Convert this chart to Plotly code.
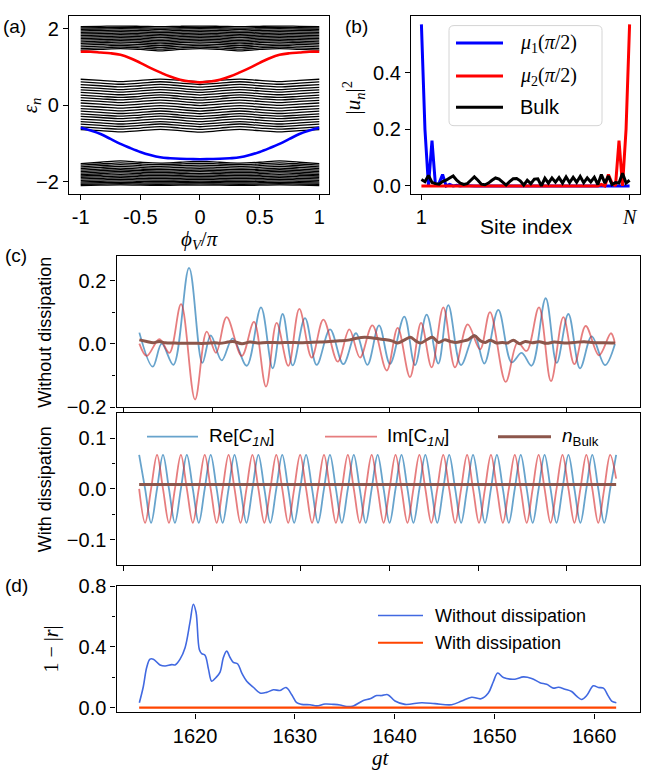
import numpy as np
import plotly.graph_objects as go

W, H = 668, 783
SANS = "Liberation Sans, Arial, sans-serif"
SERIF = "Liberation Serif, DejaVu Serif, serif"


def px(x):
    return x / W


def py(y):
    return 1 - y / H


# ---------------- (a) spectrum versus phi_V ----------------
phi_grid = np.linspace(-1.0, 1.0, 13)
phi_edge = np.linspace(-1.0, 1.0, 25)

upper_band_levels = [1.46, 1.50, 1.545, 1.59, 1.635, 1.675, 1.715, 1.755,
                     1.795, 1.835, 1.875, 1.915, 1.955, 1.995, 2.03, 2.065]
upper_band_weights = [1.0, 0.95, 0.9, 0.85, 0.8, 0.75, 0.7, 0.65,
                      0.6, 0.55, 0.5, 0.45, 0.4, 0.35, 0.3, 0.3]
upper_band_wiggle = [-0.02, 0.0, 0.02, 0.0, -0.035, 0.0, 0.02, 0.0,
                     -0.035, 0.0, 0.02, 0.0, -0.02]

middle_band_levels = [-0.665, -0.595, -0.525, -0.46, -0.39, -0.32, -0.255,
                      -0.185, -0.115, -0.045, 0.03, 0.10, 0.17, 0.235,
                      0.305, 0.375, 0.44, 0.51, 0.58, 0.65]
middle_band_wiggle = [0.03, 0.0, -0.03, 0.0, 0.035, 0.0, -0.037, 0.0,
                      0.035, 0.0, -0.03, 0.0, 0.03]

lower_band_levels = [-2.09, -2.06, -2.025, -1.99, -1.95, -1.91, -1.87, -1.83,
                     -1.79, -1.75, -1.71, -1.67, -1.625, -1.58, -1.535, -1.49]
lower_band_weights = [0.2, 0.25, 0.3, 0.35, 0.4, 0.45, 0.5, 0.55,
                      0.6, 0.65, 0.7, 0.75, 0.8, 0.85, 0.9, 1.0]
lower_band_wiggle = [-0.035, 0.0, 0.035, 0.0, -0.02, 0.0, 0.02, 0.0,
                     -0.02, 0.0, 0.035, 0.0, -0.035]

edge_upper = [1.40, 1.40, 1.38, 1.36, 1.32, 1.23, 1.11, 0.98, 0.86, 0.75,
              0.67, 0.62, 0.60, 0.62, 0.67, 0.75, 0.86, 0.98, 1.11, 1.23,
              1.32, 1.36, 1.38, 1.40, 1.40]
edge_lower = [-0.59, -0.66, -0.75, -0.88, -1.01, -1.12, -1.22, -1.30, -1.36,
              -1.385, -1.40, -1.405, -1.41, -1.405, -1.40, -1.385, -1.36,
              -1.30, -1.22, -1.12, -1.01, -0.88, -0.75, -0.66, -0.59]

# ---------------- (b) mode profiles ----------------
sites = np.arange(1, 61)
mu1_profile = [0.57, 0.20, 0.0, 0.16, 0.0, 0.01, 0.04, 0.0, 0.005, 0.0,
               0.002, 0.0, 0.001, 0.0, 0.0, 0.0, 0.0, 0.0, 0.0, 0.0,
               0.0, 0.0, 0.0, 0.0, 0.0, 0.0, 0.0, 0.0, 0.0, 0.0,
               0.0, 0.0, 0.0, 0.0, 0.0, 0.0, 0.0, 0.0, 0.0, 0.0,
               0.0, 0.0, 0.0, 0.0, 0.0, 0.0, 0.0, 0.0, 0.0, 0.0,
               0.0, 0.0, 0.0, 0.0, 0.0, 0.0, 0.0, 0.0, 0.0, 0.0]
mu2_profile = [0.0, 0.0, 0.0, 0.0, 0.0, 0.0, 0.0, 0.0, 0.0, 0.0,
               0.0, 0.0, 0.0, 0.0, 0.0, 0.0, 0.0, 0.0, 0.0, 0.0,
               0.0, 0.0, 0.0, 0.0, 0.0, 0.0, 0.0, 0.0, 0.0, 0.0,
               0.0, 0.0, 0.0, 0.0, 0.0, 0.0, 0.0, 0.0, 0.0, 0.0,
               0.0, 0.0, 0.0, 0.0, 0.0, 0.0, 0.0, 0.001, 0.0, 0.002,
               0.0, 0.005, 0.0, 0.04, 0.01, 0.0, 0.16, 0.0, 0.20, 0.57]
bulk_profile = [0.023, 0.015, 0.037, 0.012, 0.008, 0.006, 0.015, 0.020,
                0.028, 0.035, 0.020, 0.010, 0.005, 0.008, 0.020, 0.032,
                0.020, 0.006, 0.004, 0.010, 0.020, 0.028, 0.024, 0.012,
                0.003, 0.015, 0.025, 0.026, 0.018, 0.003, 0.020, 0.008,
                0.024, 0.025, 0.000, 0.027, 0.010, 0.028, 0.013, 0.029,
                0.010, 0.032, 0.012, 0.030, 0.013, 0.033, 0.011, 0.028,
                0.014, 0.030, 0.005, 0.040, 0.010, 0.035, 0.005, 0.012,
                0.010, 0.045, 0.010, 0.020]

# ---------------- (c) correlations, without dissipation ----------------
re_t = [1614.42, 1615.76, 1616.66, 1617.83, 1619.40, 1620.73, 1621.57,
        1622.67, 1623.77, 1625.18, 1626.61, 1627.78, 1628.78, 1629.79,
        1631.02, 1632.19, 1633.53, 1634.86, 1636.13, 1637.27, 1638.44,
        1639.54, 1640.97, 1642.04, 1643.21, 1644.38, 1645.38, 1646.65,
        1647.99, 1648.99, 1650.39, 1651.73, 1652.73, 1653.73, 1655.14,
        1656.24, 1657.41, 1658.58, 1659.75, 1661.08, 1662.08]
re_v = [0.036, -0.072, 0.001, -0.066, 0.241, -0.060, 0.027,
        -0.052, 0.018, -0.069, 0.116, -0.077, 0.095, -0.068,
        0.082, -0.066, 0.046, -0.064, 0.034, -0.066, 0.059,
        -0.063, 0.087, -0.067, 0.093, -0.062, 0.123, -0.067,
        0.029, -0.062, 0.108, -0.058, -0.028, -0.069, 0.145,
        -0.060, 0.095, -0.077, 0.024, -0.067, 0.000]

im_t = [1614.42, 1615.16, 1616.43, 1617.43, 1618.60, 1620.00, 1621.17,
        1622.10, 1623.17, 1624.68, 1625.91, 1627.11, 1628.18, 1629.35,
        1630.45, 1631.69, 1632.86, 1634.30, 1635.46, 1636.53, 1637.77,
        1639.21, 1640.31, 1641.54, 1642.65, 1643.71, 1644.88, 1646.05,
        1647.32, 1648.56, 1649.56, 1651.13, 1652.33, 1653.23, 1654.47,
        1655.67, 1656.91, 1658.01, 1659.15, 1660.48, 1661.68, 1662.08]
im_v = [0.001, -0.038, 0.015, -0.028, 0.126, -0.176, 0.039,
        -0.028, 0.085, -0.038, 0.070, -0.135, 0.067, -0.069,
        0.111, -0.043, 0.077, -0.056, 0.046, -0.043, 0.059,
        -0.084, 0.051, -0.105, 0.067, -0.074, 0.116, -0.074,
        0.062, -0.017, 0.101, -0.120, 0.005, -0.022, 0.116,
        -0.118, 0.085, -0.064, 0.057, -0.036, 0.034, 0.001]

nb_t = [1614.42, 1615.16, 1615.80, 1616.40, 1617.00, 1618.00, 1619.00,
        1620.00, 1621.00, 1622.00, 1622.50, 1623.30, 1623.80, 1624.70,
        1625.50, 1626.30, 1627.20, 1628.50, 1629.50, 1630.50, 1631.50,
        1632.50, 1633.50, 1634.50, 1635.50, 1636.20, 1637.00, 1637.80,
        1638.50, 1639.00, 1639.80, 1640.30, 1641.00, 1641.60, 1642.10,
        1642.60, 1643.30, 1643.80, 1644.40, 1645.00, 1645.60, 1646.10,
        1646.80, 1647.40, 1648.00, 1648.60, 1649.10, 1649.60, 1650.20,
        1650.80, 1651.30, 1651.90, 1652.50, 1653.10, 1653.80, 1654.50,
        1655.20, 1656.00, 1657.00, 1658.00, 1659.00, 1660.00, 1661.00,
        1662.08]
nb_v = [0.013, 0.008, 0.004, 0.008, 0.004, 0.003, 0.002,
        0.002, 0.002, 0.004, 0.002, 0.006, 0.008, 0.001,
        0.006, 0.003, 0.005, 0.004, 0.005, 0.004, 0.005,
        0.006, 0.008, 0.010, 0.013, 0.018, 0.021, 0.019,
        0.016, 0.014, 0.009, 0.003, 0.013, 0.021, 0.010,
        0.003, 0.015, 0.021, 0.005, 0.013, 0.008, 0.005,
        0.009, 0.014, 0.026, 0.010, 0.005, 0.012, 0.003,
        0.005, 0.003, 0.012, 0.001, 0.008, 0.004, 0.007,
        0.002, 0.006, 0.003, 0.005, 0.007, 0.004, 0.004,
        0.003]

# ---------------- (c) correlations, with dissipation ----------------
diss_t = np.linspace(1614.4, 1662.2, 81)
re_diss = [0.067, 0.0, -0.067, 0.0, 0.067, 0.0, -0.067, 0.0,
           0.067, 0.0, -0.067, 0.0, 0.067, 0.0, -0.067, 0.0,
           0.067, 0.0, -0.067, 0.0, 0.067, 0.0, -0.067, 0.0,
           0.067, 0.0, -0.067, 0.0, 0.067, 0.0, -0.067, 0.0,
           0.067, 0.0, -0.067, 0.0, 0.067, 0.0, -0.067, 0.0,
           0.067, 0.0, -0.067, 0.0, 0.067, 0.0, -0.067, 0.0,
           0.067, 0.0, -0.067, 0.0, 0.067, 0.0, -0.067, 0.0,
           0.067, 0.0, -0.067, 0.0, 0.067, 0.0, -0.067, 0.0,
           0.067, 0.0, -0.067, 0.0, 0.067, 0.0, -0.067, 0.0,
           0.067, 0.0, -0.067, 0.0, 0.067, 0.0, -0.067, 0.0,
           0.067]
im_diss = [0.0, -0.067, 0.0, 0.067, 0.0, -0.067, 0.0, 0.067,
           0.0, -0.067, 0.0, 0.067, 0.0, -0.067, 0.0, 0.067,
           0.0, -0.067, 0.0, 0.067, 0.0, -0.067, 0.0, 0.067,
           0.0, -0.067, 0.0, 0.067, 0.0, -0.067, 0.0, 0.067,
           0.0, -0.067, 0.0, 0.067, 0.0, -0.067, 0.0, 0.067,
           0.0, -0.067, 0.0, 0.067, 0.0, -0.067, 0.0, 0.067,
           0.0, -0.067, 0.0, 0.067, 0.0, -0.067, 0.0, 0.067,
           0.0, -0.067, 0.0, 0.067, 0.0, -0.067, 0.0, 0.067,
           0.0, -0.067, 0.0, 0.067, 0.0, -0.067, 0.0, 0.067,
           0.0, -0.067, 0.0, 0.067, 0.0, -0.067, 0.0, 0.067,
           0.02]
nb_diss_t = [1614.4, 1662.2]
nb_diss_v = [0.0085, 0.0085]

# ---------------- (d) 1 - |r| ----------------
r_t = [1614.42, 1614.82, 1615.16, 1615.49, 1615.82, 1616.49, 1616.99,
       1617.66, 1618.00, 1618.50, 1619.00, 1619.50, 1619.83, 1620.10,
       1620.43, 1620.67, 1621.00, 1621.34, 1621.67, 1622.10, 1622.51,
       1622.84, 1623.17, 1623.51, 1623.84, 1624.28, 1624.68, 1625.18,
       1625.84, 1626.51, 1627.18, 1627.85, 1628.52, 1629.12, 1629.69,
       1630.19, 1630.69, 1631.52, 1632.19, 1633.03, 1633.86, 1634.53,
       1635.20, 1635.87, 1636.87, 1637.54, 1638.20, 1638.70, 1639.31,
       1640.04, 1641.04, 1642.71, 1644.05, 1645.72, 1646.72, 1647.72,
       1648.66, 1649.39, 1649.89, 1650.33, 1650.90, 1652.06, 1652.90,
       1653.73, 1654.57, 1655.24, 1655.90, 1656.41, 1657.07, 1657.74,
       1658.24, 1658.74, 1659.25, 1659.91, 1660.41, 1660.92, 1661.42,
       1661.75, 1662.22]
r_nodiss = [0.032, 0.139, 0.266, 0.319, 0.319, 0.281, 0.274,
            0.283, 0.281, 0.319, 0.394, 0.564, 0.681, 0.628,
            0.383, 0.355, 0.345, 0.255, 0.174, 0.198, 0.234,
            0.330, 0.372, 0.330, 0.298, 0.287, 0.228, 0.174,
            0.134, 0.096, 0.100, 0.117, 0.113, 0.132, 0.085,
            0.032, 0.021, 0.019, 0.011, 0.023, 0.021, 0.017,
            0.007, 0.011, 0.047, 0.058, 0.079, 0.079, 0.085,
            0.043, 0.021, 0.032, 0.026, 0.019, 0.043, 0.068,
            0.058, 0.096, 0.170, 0.228, 0.198, 0.187, 0.202,
            0.192, 0.164, 0.153, 0.128, 0.134, 0.121, 0.106,
            0.075, 0.053, 0.079, 0.143, 0.132, 0.128, 0.075,
            0.043, 0.032]
r_diss_t = [1614.4, 1662.2]
r_diss = [0.0, 0.0]

# c-panel ticks (unlabelled) and d-panel ticks
c_tick_vals = [1612.82, 1621.71, 1630.60, 1639.49, 1648.38, 1657.27]
d_tick_vals = [1620, 1630, 1640, 1650, 1660]

RE_COLOR = "rgba(31,119,180,0.68)"
IM_COLOR = "rgba(214,39,40,0.6)"
NB_COLOR = "#8c564b"

fig = go.Figure()


def add(x, y, ax, color, width, shape="linear", name=None):
    fig.add_trace(go.Scatter(
        x=x, y=y, mode="lines", name=name, showlegend=False,
        line=dict(color=color, width=width, shape=shape),
        xaxis="x" + ax, yaxis="y" + ax, hoverinfo="skip"))


# (a)
for lv, wt in zip(upper_band_levels, upper_band_weights):
    add(phi_grid, lv + wt * np.array(upper_band_wiggle), "", "black", 1.3, "spline")
for lv in middle_band_levels:
    add(phi_grid, lv + np.array(middle_band_wiggle), "", "black", 1.3, "spline")
for lv, wt in zip(lower_band_levels, lower_band_weights):
    add(phi_grid, lv + wt * np.array(lower_band_wiggle), "", "black", 1.3, "spline")
add(phi_edge, edge_upper, "", "red", 2.6, "spline")
add(phi_edge, edge_lower, "", "blue", 2.6, "spline")

# (b)
add(sites, mu1_profile, "2", "blue", 3, name="mu1")
add(sites, mu2_profile, "2", "red", 3, name="mu2")
add(sites, bulk_profile, "2", "black", 3, name="Bulk")

# (c) upper
add(re_t, re_v, "3", RE_COLOR, 1.8, "spline", "Re")
add(im_t, im_v, "3", IM_COLOR, 1.8, "spline", "Im")
add(nb_t, nb_v, "3", NB_COLOR, 3, "spline", "nBulk")

# (c) lower
add(diss_t, re_diss, "4", RE_COLOR, 1.8, "spline", "Re")
add(diss_t, im_diss, "4", IM_COLOR, 1.8, "spline", "Im")
add(nb_diss_t, nb_diss_v, "4", NB_COLOR, 3, name="nBulk")

# (d)
add(r_t, r_nodiss, "5", "royalblue", 1.6, "spline", "Without dissipation")
add(r_diss_t, r_diss, "5", "orangered", 2.2, name="With dissipation")

base_axis = dict(showline=True, linecolor="black", linewidth=1.3, mirror=True,
                 ticks="outside", ticklen=5, tickwidth=1.3, tickcolor="black",
                 showgrid=False, zeroline=False,
                 tickfont=dict(family=SANS, size=20, color="black"))
minor_style = dict(ticks="outside", ticklen=3, tickwidth=1, tickcolor="black")

a_dom_x = [px(69), px(329.3)]
b_dom_x = [px(411), px(640)]
top_dom_y = [py(188.3), py(5)]
c_dom_x = [px(116.5), px(640)]

fig.update_layout(
    width=W, height=H, autosize=False,
    margin=dict(l=0, r=0, t=0, b=0),
    paper_bgcolor="white", plot_bgcolor="white",
    font=dict(family=SANS, color="black"),
    showlegend=False,
    xaxis=dict(base_axis, domain=a_dom_x, anchor="y", range=[-1.098, 1.084],
               tickvals=[-1, -0.5, 0, 0.5, 1],
               ticktext=["-1", "-0.5", "0", "0.5", "1"]),
    yaxis=dict(base_axis, domain=top_dom_y, anchor="x", range=[-2.32, 2.338],
               tickvals=[-2, 0, 2], ticktext=["\u22122", "0", "2"]),
    xaxis2=dict(base_axis, domain=b_dom_x, anchor="y2", range=[-1.95, 62.95],
                tickvals=[1, 60],
                ticktext=["1", "<span style=\"font-family:Liberation Serif\"><i>N</i></span>"]),
    yaxis2=dict(base_axis, domain=top_dom_y, anchor="x2", range=[-0.0286, 0.6],
                tickvals=[0, 0.2, 0.4], ticktext=["0.0", "0.2", "0.4"]),
    xaxis3=dict(base_axis, domain=c_dom_x, anchor="y3", range=[1612.13, 1664.59],
                tickvals=c_tick_vals, showticklabels=False),
    yaxis3=dict(base_axis, domain=[py(407.7), py(251.7)], anchor="x3",
                range=[-0.2005, 0.28], tickvals=[-0.2, 0, 0.2],
                ticktext=["\u22120.2", "0.0", "0.2"],
                minor=dict(minor_style, tickvals=[-0.1, 0.1])),
    xaxis4=dict(base_axis, domain=c_dom_x, anchor="y4", range=[1612.13, 1664.59],
                tickvals=c_tick_vals, showticklabels=False),
    yaxis4=dict(base_axis, domain=[py(570), py(413.3)], anchor="x4",
                range=[-0.15, 0.15], tickvals=[-0.1, 0, 0.1],
                ticktext=["\u22120.1", "0.0", "0.1"],
                minor=dict(minor_style, tickvals=[-0.05, 0.05])),
    xaxis5=dict(base_axis, domain=c_dom_x, anchor="y5", range=[1612.13, 1664.59],
                tickvals=d_tick_vals),
    yaxis5=dict(base_axis, domain=[py(721.7), py(591.7)], anchor="x5",
                range=[-0.032, 0.8005], tickvals=[0, 0.4, 0.8],
                ticktext=["0.0", "0.4", "0.8"],
                minor=dict(minor_style, tickvals=[0.2, 0.6])),
)

annotations = []


def label(text, x, y, size, family=SANS, angle=0, anchor="center"):
    annotations.append(dict(text=text, x=px(x), y=py(y), xref="paper", yref="paper",
                            showarrow=False, textangle=angle, xanchor=anchor,
                            yanchor="middle", font=dict(family=family, size=size, color="black")))


# panel tags
label("(a)", 14, 16, 19)
label("(b)", 356, 16, 19)
label("(c)", 16, 252, 19)
label("(d)", 16, 591, 19)

# axis titles
label("<i>ε</i><sub><i>n</i></sub>", 31, 97, 21, SERIF, -90)
label("<i>ϕ</i><sub><i>V</i></sub>/<i>π</i>", 199, 236, 21, SERIF)
label("|<i>u</i><sub><i>n</i></sub>|<sup>2</sup>", 353, 89, 21, SERIF, -90)
label("Site index", 526, 222, 21)
label("Without dissipation", 45, 331, 18, SANS, -90)
label("With dissipation", 45, 492, 18, SANS, -90)
label("1 \u2212 |<i>r</i>|", 52, 657, 20, SERIF, -90)
label("<i>gt</i>", 381, 769, 21, SERIF)

# legend of (b)
label("<i>μ</i><sub>1</sub>(<i>π</i>/2)", 518, 33, 20, SERIF, anchor="left")
label("<i>μ</i><sub>2</sub>(<i>π</i>/2)", 518, 67, 20, SERIF, anchor="left")
label("Bulk", 518, 99, 20, anchor="left")
# legend of (c)
label("Re[<i>C</i><sub><i>1N</i></sub>]", 207, 438, 19, anchor="left")
label("Im[C<sub><i>1N</i></sub>]", 385, 438, 19, anchor="left")
label("<i>n</i><sub>Bulk</sub>", 560, 438, 19, anchor="left")
# legend of (d)
label("Without dissipation", 433, 622, 18, anchor="left")
label("With dissipation", 433, 650, 18, anchor="left")

shapes = []


def key_line(x0, x1, y, color, width):
    shapes.append(dict(type="line", xref="paper", yref="paper",
                       x0=px(x0), x1=px(x1), y0=py(y), y1=py(y),
                       line=dict(color=color, width=width)))


# rounded frame of the (b) legend
fx0, fx1, fy0, fy1, rr = 449, 602, 15, 118, 5
frame_path = (
    f"M{px(fx0 + rr)},{py(fy0)} L{px(fx1 - rr)},{py(fy0)} "
    f"Q{px(fx1)},{py(fy0)} {px(fx1)},{py(fy0 + rr)} "
    f"L{px(fx1)},{py(fy1 - rr)} Q{px(fx1)},{py(fy1)} {px(fx1 - rr)},{py(fy1)} "
    f"L{px(fx0 + rr)},{py(fy1)} Q{px(fx0)},{py(fy1)} {px(fx0)},{py(fy1 - rr)} "
    f"L{px(fx0)},{py(fy0 + rr)} Q{px(fx0)},{py(fy0)} {px(fx0 + rr)},{py(fy0)} Z")
shapes.append(dict(type="path", xref="paper", yref="paper", path=frame_path,
                   line=dict(color="#d4d4d4", width=1),
                   fillcolor="rgba(255,255,255,0.8)"))

key_line(456, 503, 33, "blue", 3)
key_line(456, 503, 67, "red", 3)
key_line(456, 503, 99, "black", 3)
key_line(147, 198, 438, RE_COLOR, 1.8)
key_line(325, 377, 438, IM_COLOR, 1.8)
key_line(498, 551, 438, NB_COLOR, 3)
key_line(378, 423, 622, "royalblue", 1.6)
key_line(378, 423, 650, "orangered", 2.2)

fig.update_layout(annotations=annotations, shapes=shapes)

fig.write_html("out.html")
